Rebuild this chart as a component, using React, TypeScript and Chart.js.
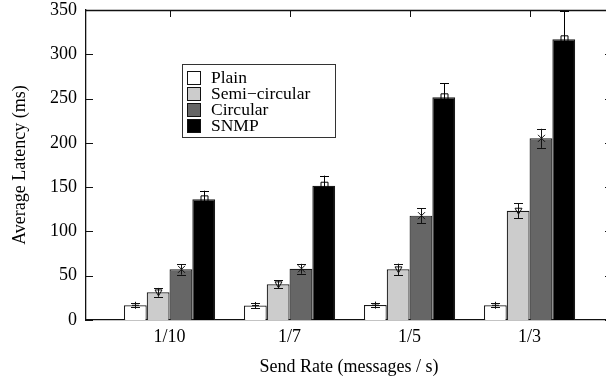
import { useEffect, useRef } from 'react';
import { Chart, registerables } from 'chart.js';

Chart.register(...registerables);

// Send rates (messages / s) along the x axis
const rateLabels = ['1/10', '1/7', '1/5', '1/3'];

// Mean latency (ms) per scheme
const plain = [16.6, 16.4, 16.8, 16.6];
const semiCircular = [31.2, 40.3, 57.2, 123.4];
const circular = [57.2, 57.8, 117.8, 205.1];
const snmp = [136.2, 151.6, 251.4, 316.9];

// Half-width of the error bar around each mean (ms)
const plainErr = [2.4, 2.3, 2.4, 2.3];
const semiCircularErr = [5.0, 4.7, 6.4, 8.5];
const circularErr = [6.0, 5.6, 8.3, 10.8];
const snmpErr = [9.8, 11.4, 15.8, 32.0];

const yTicks = [0, 50, 100, 150, 200, 250, 300, 350];

const seriesNames = ['Plain', 'Semi\u2212circular', 'Circular', 'SNMP'];
const seriesValues = [plain, semiCircular, circular, snmp];
const seriesErrors = [plainErr, semiCircularErr, circularErr, snmpErr];
const seriesFill = ['#ffffff', '#cccccc', '#666666', '#000000'];
const seriesMarker = ['plus', 'triangleDown', 'cross', 'square'];

const FONT = "'Liberation Serif', 'Times New Roman', serif";
const INK = '#111111';

function drawMarker(ctx: CanvasRenderingContext2D, kind: string, x: number, y: number) {
  const r = 3.5;
  ctx.beginPath();
  if (kind === 'plus') {
    ctx.moveTo(x - r, y);
    ctx.lineTo(x + r, y);
    ctx.moveTo(x, y - r);
    ctx.lineTo(x, y + r);
  } else if (kind === 'triangleDown') {
    ctx.moveTo(x - r, y - r * 0.7);
    ctx.lineTo(x + r, y - r * 0.7);
    ctx.lineTo(x, y + r);
    ctx.closePath();
  } else if (kind === 'cross') {
    ctx.moveTo(x - r, y - r);
    ctx.lineTo(x + r, y + r);
    ctx.moveTo(x + r, y - r);
    ctx.lineTo(x - r, y + r);
  } else {
    ctx.rect(x - r, y - r, r * 2, r * 2);
  }
  ctx.stroke();
}

// Error bars with end caps and a point marker at the mean
const errorBarPlugin = {
  id: 'errorBars',
  afterDatasetsDraw(chart: any) {
    const { ctx, chartArea } = chart;
    const yScale = chart.scales.y;
    ctx.save();
    ctx.beginPath();
    ctx.rect(chartArea.left, chartArea.top - 1, chartArea.right - chartArea.left, chartArea.bottom - chartArea.top + 1);
    ctx.clip();
    ctx.lineWidth = 1;
    chart.data.datasets.forEach((_ds: any, di: number) => {
      const meta = chart.getDatasetMeta(di);
      const vals = seriesValues[di];
      const errs = seriesErrors[di];
      const stroke = di === 3 ? '#000000' : INK;
      meta.data.forEach((bar: any, j: number) => {
        const x = Math.round(bar.x) + 0.5;
        const hi = yScale.getPixelForValue(vals[j] + errs[j]);
        const lo = yScale.getPixelForValue(vals[j] - errs[j]);
        const mid = yScale.getPixelForValue(vals[j]);
        ctx.strokeStyle = stroke;
        ctx.beginPath();
        ctx.moveTo(x, hi);
        ctx.lineTo(x, lo);
        ctx.moveTo(x - 4.5, Math.round(hi) + 0.5);
        ctx.lineTo(x + 4.5, Math.round(hi) + 0.5);
        ctx.moveTo(x - 4.5, Math.round(lo) + 0.5);
        ctx.lineTo(x + 4.5, Math.round(lo) + 0.5);
        ctx.stroke();
        drawMarker(ctx, seriesMarker[di], x, mid);
      });
    });
    ctx.restore();
  },
};

// Frame: top border and inward tick marks
const framePlugin = {
  id: 'frame',
  afterDraw(chart: any) {
    const { ctx, chartArea } = chart;
    const { left, right, top } = chartArea;
    const xScale = chart.scales.x;
    const yScale = chart.scales.y;
    ctx.save();
    ctx.strokeStyle = INK;
    ctx.lineWidth = 1.3;
    ctx.beginPath();
    ctx.moveTo(left, top + 0.5);
    ctx.lineTo(right, top + 0.5);
    ctx.stroke();
    ctx.lineWidth = 1;
    ctx.beginPath();
    yScale.ticks.forEach((t: any) => {
      const py = Math.round(yScale.getPixelForValue(t.value)) + 0.5;
      ctx.moveTo(left, py);
      ctx.lineTo(left + 7, py);
      ctx.moveTo(right, py);
      ctx.lineTo(right - 7, py);
    });
    xScale.ticks.forEach((t: any) => {
      const px = Math.round(xScale.getPixelForValue(t.value)) + 0.5;
      ctx.moveTo(px, top);
      ctx.lineTo(px, top + 7);
    });
    ctx.stroke();
    ctx.restore();
  },
};

// Boxed key inside the plot area
const keyPlugin = {
  id: 'boxedKey',
  afterDraw(chart: any) {
    const { ctx } = chart;
    const boxX = 182.5;
    const boxY = 64.5;
    const boxW = 153;
    const boxH = 73;
    ctx.save();
    ctx.fillStyle = '#ffffff';
    ctx.fillRect(boxX, boxY, boxW, boxH);
    ctx.strokeStyle = '#333333';
    ctx.lineWidth = 1;
    ctx.strokeRect(boxX, boxY, boxW, boxH);
    ctx.font = `17.5px ${FONT}`;
    ctx.textBaseline = 'middle';
    ctx.textAlign = 'left';
    chart.data.datasets.forEach((ds: any, i: number) => {
      const rowY = 71.5 + i * 16;
      ctx.fillStyle = ds.backgroundColor;
      ctx.fillRect(187.5, rowY, 13, 13);
      ctx.strokeStyle = '#111111';
      ctx.strokeRect(187.5, rowY, 13, 13);
      ctx.fillStyle = '#000000';
      ctx.fillText(ds.label, 211, rowY + 7);
    });
    ctx.restore();
  },
};

export default function App() {
  const canvasRef = useRef<HTMLCanvasElement | null>(null);

  useEffect(() => {
    const canvas = canvasRef.current;
    if (!canvas) return;
    const chart = new Chart(canvas, {
      type: 'bar',
      data: {
        datasets: seriesNames.map((name, i) => ({
          label: name,
          data: seriesValues[i].map((v, j) => ({ x: j, y: v })),
          backgroundColor: seriesFill[i],
          borderColor: '#1a1a1a',
          borderWidth: 1.2,
          borderSkipped: 'start',
          categoryPercentage: 0.76,
          barPercentage: 1.0,
        })),
      },
      options: {
        responsive: false,
        devicePixelRatio: 1,
        animation: false,
        layout: { padding: { left: 9, top: 10, right: 0, bottom: 0 } },
        plugins: {
          legend: { display: false },
          tooltip: { enabled: false },
        },
        scales: {
          x: {
            type: 'linear',
            offset: false,
            min: -0.696,
            max: 3.687,
            afterBuildTicks: (scale: any) => {
              scale.ticks = rateLabels.map((_, i) => ({ value: i }));
            },
            afterFit: (scale: any) => {
              scale.height = 63;
            },
            grid: { display: false, drawTicks: false },
            border: { display: true, color: INK, width: 1.3 },
            ticks: {
              color: '#000000',
              font: { family: FONT, size: 18, lineHeight: 1 },
              padding: 8,
              maxRotation: 0,
              autoSkip: false,
              callback: (value: any) => rateLabels[Math.round(Number(value))] ?? '',
            },
            title: {
              display: true,
              text: 'Send Rate (messages / s)',
              color: '#000000',
              font: { family: FONT, size: 18, lineHeight: 1.2 },
              padding: { top: 0, bottom: 5 },
            },
          },
          y: {
            min: 0,
            max: 350,
            afterBuildTicks: (scale: any) => {
              scale.ticks = yTicks.map((v) => ({ value: v }));
            },
            afterFit: (scale: any) => {
              scale.width = 77;
            },
            grid: { display: false, drawTicks: false },
            border: { display: true, color: INK, width: 1.3 },
            ticks: {
              color: '#000000',
              // single-line labels: a tight line box keeps the end padding small
              font: { family: FONT, size: 18, lineHeight: 0.1 },
              padding: 9,
            },
            title: {
              display: true,
              text: 'Average Latency (ms)',
              color: '#000000',
              font: { family: FONT, size: 18, lineHeight: 1.2 },
              padding: { top: 0, bottom: 0 },
            },
          },
        },
      },
      plugins: [errorBarPlugin, framePlugin, keyPlugin],
    } as any);
    return () => chart.destroy();
  }, []);

  return (
    <div
      style={{
        position: 'fixed',
        left: 0,
        top: 0,
        width: 606,
        height: 383,
        overflow: 'hidden',
        background: '#ffffff',
      }}
    >
      <canvas ref={canvasRef} width={612} height={383} style={{ display: 'block' }} />
    </div>
  );
}
